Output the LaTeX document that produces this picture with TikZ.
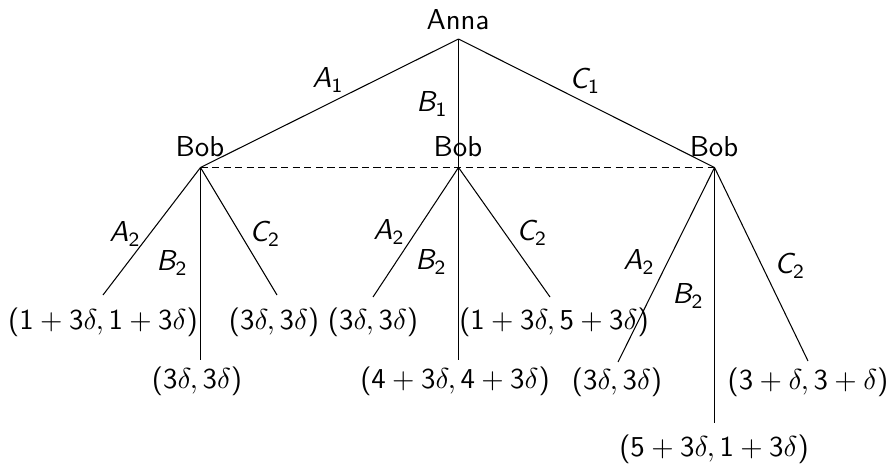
\documentclass[tikz,border=0pt]{standalone}
\DeclareSymbolFont{operators}{OT1}{cmss}{m}{n}
\DeclareMathAlphabet{\mathsfit}{OT1}{cmss}{m}{sl}
\begin{document}
\begin{tikzpicture}[x=0.347pt,y=-0.347pt,
  font=\sffamily\normalsize,
  every node/.style={inner sep=0pt},
  branch/.style={line width=0.36pt},
  info/.style={line width=0.36pt,dash pattern=on 2.5pt off 1.5pt}]
\useasboundingbox (0,0) rectangle (893,463);
% players
\node (anna) at (458,20) {Anna};
\coordinate (r) at (458.5,39);
\node (bobL) at (200,147) {Bob};
\node (bobM) at (458,147) {Bob};
\node (bobR) at (714,147) {Bob};
\coordinate (L) at (200.5,167.5);
\coordinate (M) at (458.5,167.5);
\coordinate (R) at (714.5,167.5);
% branch ends
\coordinate (LA) at (103,295);
\coordinate (LB) at (200.5,360);
\coordinate (LC) at (277,295);
\coordinate (MA) at (373,297);
\coordinate (MB) at (458.5,360);
\coordinate (MC) at (550,297);
\coordinate (RA) at (618,362);
\coordinate (RB) at (714.5,423);
\coordinate (RC) at (808,361);
% edges
\draw[branch] (r) -- (L);
\draw[branch] (r) -- (M);
\draw[branch] (r) -- (R);
\draw[info] (L) -- (R);
\foreach \p in {L,M,R}{
  \draw[branch] (\p) -- (\p A);
  \draw[branch] (\p) -- (\p B);
  \draw[branch] (\p) -- (\p C);
}
% edge labels
\node (a1) at (328,80) {$\mathsfit{A}_1$};
\node (b1) at (432,104) {$\mathsfit{B}_1$};
\node (c1) at (585,81) {$\mathsfit{C}_1$};
\node (la) at (125,234) {$\mathsfit{A}_2$};
\node (lb) at (172,263) {$\mathsfit{B}_2$};
\node (lc) at (265,234) {$\mathsfit{C}_2$};
\node (ma) at (389,232) {$\mathsfit{A}_2$};
\node (mb) at (431,262) {$\mathsfit{B}_2$};
\node (mc) at (532,233) {$\mathsfit{C}_2$};
\node (ra) at (639,262) {$\mathsfit{A}_2$};
\node (rb) at (688,296) {$\mathsfit{B}_2$};
\node (rc) at (790,266) {$\mathsfit{C}_2$};
% payoffs
\node (pLA) at (103,322) {$(1+3\delta,1+3\delta)$};
\node (pLB) at (197,381) {$(3\delta,3\delta)$};
\node (pLC) at (274,322) {$(3\delta,3\delta)$};
\node (pMA) at (373,322) {$(3\delta,3\delta)$};
\node (pMB) at (455,381) {$(4+3\delta,4+3\delta)$};
\node (pMC) at (554,322) {$(1+3\delta,5+3\delta)$};
\node (pRA) at (617,382) {$(3\delta,3\delta)$};
\node (pRB) at (714,449) {$(5+3\delta,1+3\delta)$};
\node (pRC) at (808,382) {$(3+\delta,3+\delta)$};
\end{tikzpicture}
\end{document}
